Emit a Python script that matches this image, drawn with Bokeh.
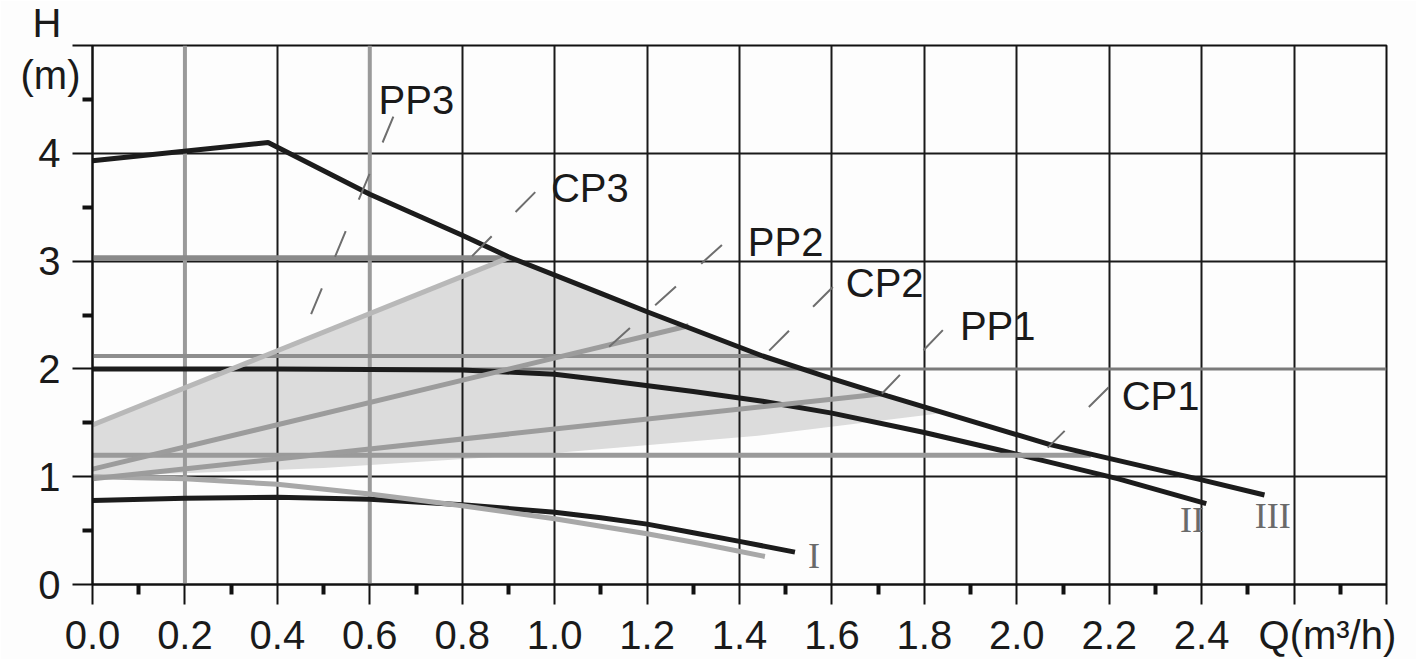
from bokeh.plotting import figure
from bokeh.models import Range1d, FixedTicker, Span, Label
from bokeh.embed import file_html
from bokeh.resources import INLINE

# ---------------- data ----------------
# speed curves (black)
q_I = [0.0, 0.2, 0.4, 0.6, 0.8, 1.0, 1.1, 1.2, 1.3, 1.4, 1.52]
h_I = [0.78, 0.80, 0.81, 0.79, 0.74, 0.67, 0.62, 0.56, 0.48, 0.40, 0.30]
q_II = [0.0, 0.4, 0.8, 1.0, 1.1, 1.3, 1.45, 1.6, 1.8, 1.96, 2.22, 2.41]
h_II = [2.0, 2.0, 1.99, 1.95, 1.90, 1.79, 1.70, 1.59, 1.41, 1.25, 0.98, 0.75]
q_III = [0.0, 0.38, 0.6, 0.8, 0.9, 1.1, 1.2, 1.45, 1.6, 1.72, 2.07, 2.16, 2.40, 2.536]
h_III = [3.93, 4.10, 3.62, 3.24, 3.04, 2.70, 2.53, 2.12, 1.91, 1.75, 1.30, 1.21, 0.97, 0.83]
# lower grey curve
q_low = [0.0, 0.2, 0.4, 0.6, 0.8, 1.0, 1.2, 1.315, 1.455]
h_low = [1.0, 0.98, 0.93, 0.84, 0.73, 0.61, 0.47, 0.38, 0.26]
# proportional pressure lines
q_PP3 = [0.0, 0.9];  h_PP3 = [1.48, 3.03]
q_PP2 = [0.0, 1.29]; h_PP2 = [1.07, 2.40]
q_PP1 = [0.0, 1.71]; h_PP1 = [0.98, 1.77]
# constant pressure lines
q_CP3 = [0.0, 0.9];   h_CP3 = [3.03, 3.03]
q_CP2 = [0.0, 1.455]; h_CP2 = [2.12, 2.12]
q_CP1 = [0.0, 2.16];  h_CP1 = [1.20, 1.20]
# shaded operating area
shade_q = [0.0, 0.9, 1.1, 1.2, 1.45, 1.6, 1.72, 1.84, 1.44, 1.0, 0.5, 0.0]
shade_h = [1.48, 3.03, 2.70, 2.53, 2.12, 1.91, 1.75, 1.59, 1.38, 1.22, 1.08, 1.0]
# curve names and leader lines (label point -> curve point)
names = ["PP3", "CP3", "PP2", "CP2", "PP1", "CP1"]
name_q = [0.619, 0.992, 1.418, 1.630, 1.877, 2.227]
name_h = [4.49, 3.68, 3.18, 2.795, 2.40, 1.745]
lead_q0 = [0.651, 0.958, 1.362, 1.602, 1.840, 2.199]
lead_h0 = [4.34, 3.64, 3.15, 2.76, 2.36, 1.83]
lead_q1 = [0.450, 0.813, 1.109, 1.455, 1.708, 2.067]
lead_h1 = [2.27, 3.01, 2.17, 2.13, 1.77, 1.27]
speed_names = ["I", "II", "III"]
speed_q = [1.548, 2.353, 2.515]
speed_h = [0.26, 0.594, 0.64]
# axes (titles sit on the last tick of each axis, as in the original)
NB, EN, TH = "\u00a0", "\u2002", "\u2009"
x_title = "Q(m³/h)"
y_title = "H"
y_unit = "(m)"
x_ticks = [0.0, 0.2, 0.4, 0.6, 0.8, 1.0, 1.2, 1.4, 1.6, 1.8, 2.0, 2.2, 2.4, 2.6, 2.8]
x_labels = ["0.0", "0.2", "0.4", "0.6", "0.8", "1.0", "1.2", "1.4", "1.6", "1.8",
            "2.0", "2.2", "2.4", NB * 6 + x_title, ""]
x_minor = [0.1, 0.3, 0.5, 0.7, 0.9, 1.1, 1.3, 1.5, 1.7, 1.9, 2.1, 2.3, 2.5, 2.7]
y_ticks = [0, 1, 2, 3, 4, 5]
y_labels = ["0" + EN, "1" + EN, "2" + EN, "3" + EN, "4" + EN, y_title + NB + TH + "\n" + y_unit]
y_minor = [0.5, 1.5, 2.5, 3.5, 4.5]
x_grid_black = [0.4, 0.8, 1.0, 1.2, 1.4, 1.6, 1.8, 2.0, 2.2, 2.4, 2.6]
x_grid_grey = [0.2, 0.6]
y_grid_black = [1, 3, 4]
y_grid_grey = [2]

FONT = "Liberation Sans"
FS = "40px"
BG = "#fdfdfd"

p = figure(width=1416, height=659, output_backend="svg", toolbar_location=None,
           x_range=Range1d(0, 2.8), y_range=Range1d(0, 5),
           min_border_left=92, min_border_right=30, min_border_top=45, min_border_bottom=75,
           background_fill_color=BG, border_fill_color=BG)
p.outline_line_color = "#111111"
p.outline_line_width = 2

for ax in (p.xaxis[0], p.yaxis[0]):
    ax.axis_line_color = "#111111"
    ax.axis_line_width = 2
    ax.major_tick_line_color = "#111111"
    ax.major_tick_line_width = 2
    ax.major_tick_in = 0
    ax.major_tick_out = 20
    ax.minor_tick_line_color = "#111111"
    ax.minor_tick_line_width = 4
    ax.minor_tick_in = 0
    ax.minor_tick_out = 10
    ax.major_label_text_font = FONT
    ax.major_label_text_font_size = FS
    ax.major_label_text_color = "#1a1a1a"

p.xaxis.ticker = FixedTicker(ticks=x_ticks, minor_ticks=x_minor)
p.xaxis.major_label_overrides = dict(zip(x_ticks, x_labels))
p.xaxis.major_label_standoff = 8
p.yaxis.ticker = FixedTicker(ticks=y_ticks, minor_ticks=y_minor)
p.yaxis.major_label_overrides = dict(zip(y_ticks, y_labels))
p.yaxis.major_label_standoff = -8

p.xgrid.ticker = FixedTicker(ticks=x_grid_black)
p.ygrid.ticker = FixedTicker(ticks=y_grid_black)
for g in (p.xgrid[0], p.ygrid[0]):
    g.grid_line_color = "#1a1a1a"
    g.grid_line_width = 2
for xv in x_grid_grey:
    p.add_layout(Span(location=xv, dimension="height", line_color="#9a9a9a",
                      line_width=4, level="underlay"))
for yv in y_grid_grey:
    p.add_layout(Span(location=yv, dimension="width", line_color="#7a7a7a",
                      line_width=3, level="underlay"))

# shaded area
p.patch(shade_q, shade_h, fill_color="#dcdcdc", line_color=None, level="image")

BLACK = "#1c1c1c"
p.line(q_II, h_II, line_color=BLACK, line_width=5)
p.line(q_I, h_I, line_color=BLACK, line_width=5)
p.line(q_low, h_low, line_color="#a8a8a8", line_width=5)
p.line(q_CP1, h_CP1, line_color="#9a9a9a", line_width=5)
p.line(q_PP1, h_PP1, line_color="#9c9c9c", line_width=5)
p.line(q_CP2, h_CP2, line_color="#8e8e8e", line_width=4)
p.line(q_PP2, h_PP2, line_color="#9c9c9c", line_width=5)
p.line(q_CP3, h_CP3, line_color="#8a8a8a", line_width=5)
p.line(q_PP3, h_PP3, line_color="#b8b8b8", line_width=5)
p.line(q_III, h_III, line_color=BLACK, line_width=5)

for i in range(len(names)):
    p.line([lead_q0[i], lead_q1[i]], [lead_h0[i], lead_h1[i]], line_color="#6e6e6e",
           line_width=2, line_dash="28 34")
    p.add_layout(Label(x=name_q[i], y=name_h[i], text=names[i], text_font=FONT,
                       text_font_size=FS, text_color="#1a1a1a",
                       text_align="left", text_baseline="middle"))

for i in range(len(speed_names)):
    p.add_layout(Label(x=speed_q[i], y=speed_h[i], text=speed_names[i],
                       text_font="Liberation Serif", text_font_size="36px",
                       text_color="#6a6a6a", text_align="left", text_baseline="middle"))

open("out.html", "w").write(file_html(p, INLINE))
